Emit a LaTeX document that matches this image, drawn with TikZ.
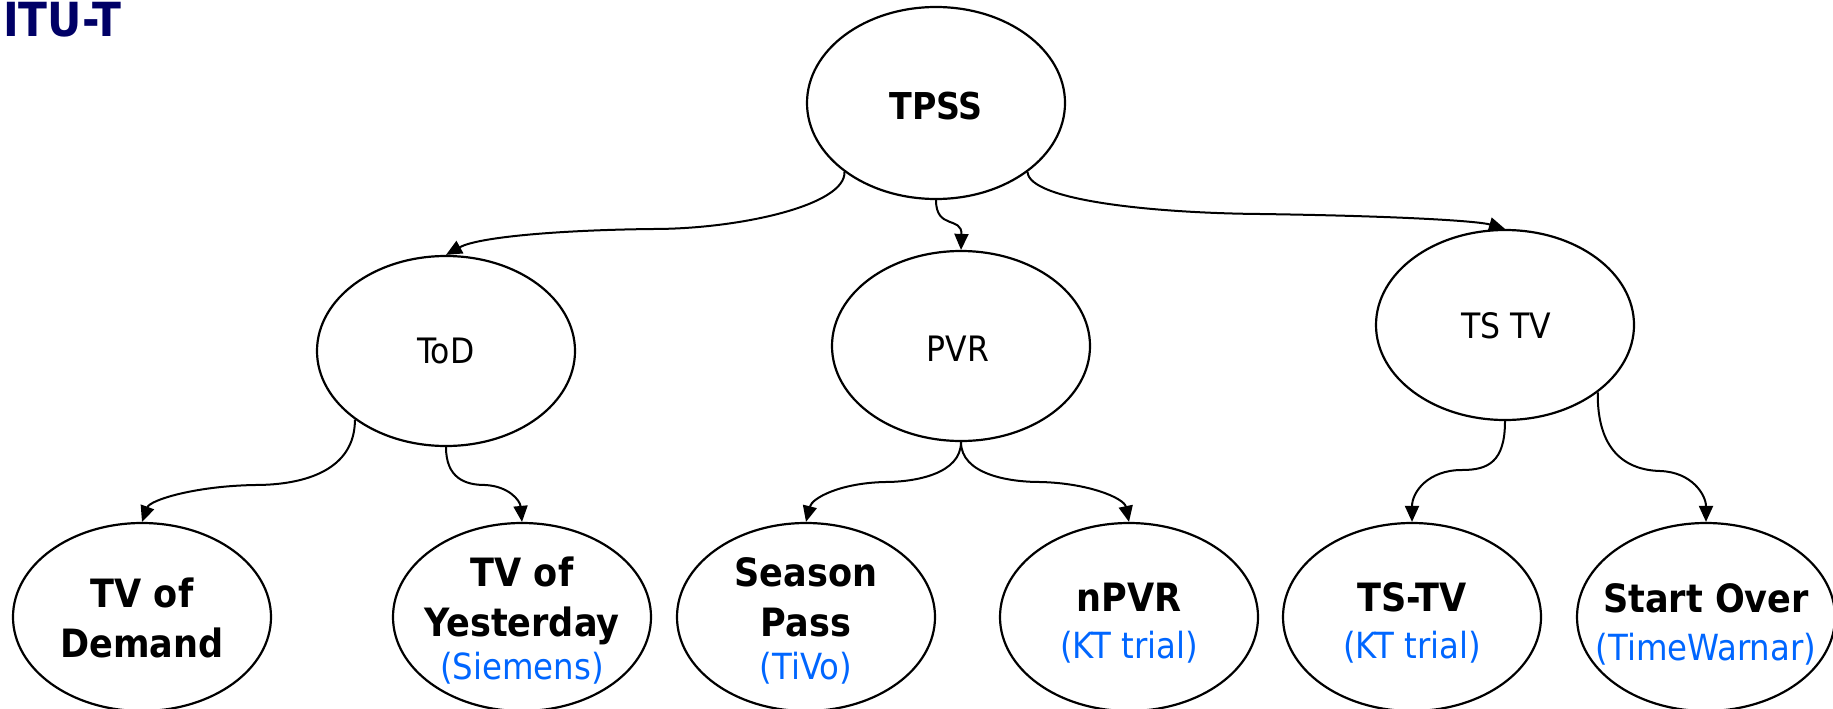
\documentclass[tikz,border=0pt]{standalone}
\usepackage{fontspec}
\setmainfont{DejaVu Sans Condensed}
\usetikzlibrary{shapes.geometric,arrows.meta}
\definecolor{itunavy}{RGB}{0,0,102}
\definecolor{compblue}{RGB}{0,102,255}
\newcommand\cmpy[1]{{\color{compblue}\fontsize{36}{50}\mdseries\selectfont #1}}
\begin{document}
\begin{tikzpicture}[x=1pt,y=-1pt,
  oval/.style={draw,ellipse,line width=2.2pt,minimum width=258pt,minimum height=190pt,inner sep=0pt},
  lbl/.style={inner sep=0pt,align=center},
  big/.style={font=\fontsize{39}{50}\selectfont\bfseries},
  mid/.style={font=\fontsize{35}{42}\selectfont},
  conn/.style={line width=2pt,-{Triangle[length=16pt,width=14pt]}}]
\useasboundingbox (0,0) rectangle (1833,709);

\node[anchor=base west,inner sep=0pt,text=itunavy,font=\fontsize{47}{56}\selectfont\bfseries] (itu) at (3,37) {ITU-T};

% ellipses
\node[oval,minimum height=192pt] (tpss) at (936,103) {};
\node[oval] (tod) at (446,351) {};
\node[oval] (pvr) at (961,346) {};
\node[oval] (tstv) at (1505,325) {};
\node[oval,minimum height=188pt] (dem) at (142,617) {};
\node[oval,minimum height=188pt] (yes) at (522,617) {};
\node[oval,minimum height=188pt] (sea) at (806,617) {};
\node[oval,minimum height=188pt] (npvr) at (1129,617) {};
\node[oval,minimum height=188pt] (tstvb) at (1412,617) {};
\node[oval,minimum height=188pt] (sov) at (1706,617) {};

% labels
\node[lbl,font=\fontsize{37}{44}\selectfont\bfseries] (tpssT) at (936,106) {TPSS};
\node[lbl,mid] (todT) at (446,351) {ToD};
\node[lbl,mid] (pvrT) at (958,349) {PVR};
\node[lbl,mid] (tstvT) at (1506,326) {TS TV};
\node[lbl,big] (demT) at (142,618) {TV of\\Demand};
\node[lbl,big] (yesT) at (522,621) {TV of\\Yesterday\\[-7pt]\cmpy{(Siemens)}};
\node[lbl,big] (seaT) at (806,621) {Season\\Pass\\[-7pt]\cmpy{(TiVo)}};
\node[lbl,big] (npvrT) at (1129,623) {nPVR\\[-3pt]\cmpy{(KT trial)}};
\node[lbl,big] (tstvbT) at (1412,623) {TS-TV\\[-3pt]\cmpy{(KT trial)}};
\node[lbl,big] (sovT) at (1706,624) {Start Over\\[-2pt]\cmpy{(TimeWarnar)}};

% connectors
\draw[conn] (tpss.217) .. controls (846,205) and (740,229) .. (653,229) .. controls (560,230) and (478,237) .. (tod.north);
\draw[conn] (tpss.south) .. controls (936,230) and (962,216) .. (pvr.north);
\draw[conn] (tpss.323) .. controls (1029,200) and (1150,213) .. (1260,214) .. controls (1400,216) and (1478,221) .. (tstv.north);
\draw[conn] (tod.217) .. controls (355,470) and (305,485) .. (255,485) .. controls (195,486) and (150,500) .. (dem.north);
\draw[conn] (tod.south) .. controls (446,478) and (465,485) .. (485,485) .. controls (508,486) and (520,500) .. (yes.north);
\draw[conn] (pvr.south) .. controls (961,474) and (915,482) .. (885,482) .. controls (840,483) and (812,498) .. (sea.north);
\draw[conn] (pvr.south) .. controls (961,474) and (1008,482) .. (1040,482) .. controls (1088,483) and (1124,498) .. (npvr.north);
\draw[conn] (tstv.south) .. controls (1505,462) and (1488,470) .. (1462,470) .. controls (1428,470) and (1412,492) .. (tstvb.north);
\draw[conn] (tstv.324) .. controls (1597,450) and (1625,470) .. (1660,471) .. controls (1692,472) and (1706,495) .. (sov.north);
\end{tikzpicture}
\end{document}
